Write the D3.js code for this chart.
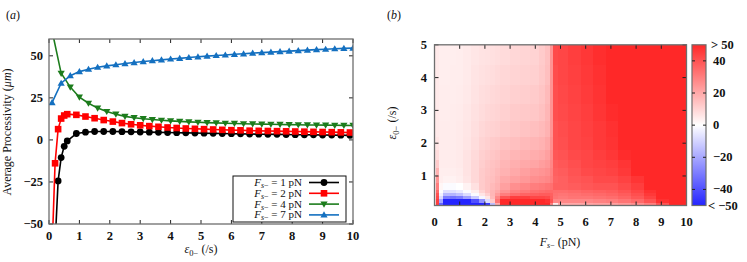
<!DOCTYPE html>
<html>
<head>
<meta charset="utf-8">
<script src="https://cdn.jsdelivr.net/npm/d3@7"></script>
<style>
  body { margin: 0; background: #fff; }
  svg text { font-family: 'Liberation Serif', 'DejaVu Serif', serif; fill: #111; }
  .tick-label { font-size: 12.5px; font-weight: bold; }
  .axis-label { font-size: 12px; }
  .legend-label { font-size: 11px; }
</style>
</head>
<body>
<svg id="fig" width="747" height="262"></svg>
<script>
// ---- panel (a): processivity against the unbinding rate ----
const epsCoarse = [0.1, 0.4, 0.7, 1.0, 1.3, 1.6, 1.9, 2.2, 2.5, 2.8, 3.1, 3.4, 3.7, 4.0, 4.3, 4.6, 4.9,
  5.2, 5.5, 5.8, 6.1, 6.4, 6.7, 7.0, 7.3, 7.6, 7.9, 8.2, 8.5, 8.8, 9.1, 9.4, 9.7, 10.0]
const epsFine = [0.1, 0.2, 0.3, 0.4, 0.5, 0.6, 0.9, 1.2, 1.5, 1.8, 2.1, 2.4, 2.7, 3.0, 3.3, 3.6, 3.9,
  4.2, 4.5, 4.8, 5.1, 5.4, 5.7, 6.0, 6.3, 6.6, 6.9, 7.2, 7.5, 7.8, 8.1, 8.4, 8.7, 9.0, 9.3, 9.6, 9.9]

const procF1 = [-150, -62, -24.4, -10.5, -3.8, -0.6, 3.8, 4.6, 5.0, 5.0, 5.0, 4.9, 4.8, 4.7, 4.6, 4.5, 4.4,
  4.3, 4.2, 4.1, 4.0, 3.9, 3.8, 3.7, 3.6, 3.5, 3.4, 3.35, 3.3, 3.2, 3.1, 3.05, 3.0, 2.9, 2.85, 2.8, 2.7]
const procF2 = [-66, -13.9, 6.4, 12.7, 14.5, 15.3, 14.9, 13.9, 12.9, 11.8, 10.9, 10.0, 9.3, 8.7, 8.2, 7.8, 7.4,
  7.1, 6.8, 6.6, 6.4, 6.2, 6.0, 5.8, 5.7, 5.5, 5.4, 5.3, 5.2, 5.1, 5.0, 4.9, 4.8, 4.7, 4.6, 4.5, 4.4]
const procF4 = [65, 39.6, 31.4, 25.4, 21.8, 18.9, 16.9, 15.3, 14.0, 13.2, 12.6, 12.1, 11.7, 11.3, 11.0, 10.7, 10.5,
  10.3, 10.1, 9.9, 9.8, 9.6, 9.5, 9.4, 9.3, 9.2, 9.1, 9.0, 8.9, 8.85, 8.8, 8.7, 8.65, 8.6]
const procF7 = [22.2, 33.7, 38.2, 40.6, 42.0, 43.2, 44.0, 44.7, 45.4, 46.0, 46.6, 47.1, 47.6, 48.1, 48.5, 49.0, 49.4,
  49.8, 50.2, 50.5, 50.9, 51.2, 51.6, 51.9, 52.2, 52.5, 52.8, 53.1, 53.4, 53.7, 53.9, 54.2, 54.4, 54.6]

const seriesForce = [1, 2, 4, 7]
const seriesColor = ['#000000', '#ff0000', '#1c7c1c', '#1470c0']
const seriesMarker = ['circle', 'square', 'down', 'up']

const lineXTicks = [0, 1, 2, 3, 4, 5, 6, 7, 8, 9, 10]
const lineYTicks = [-50, -25, 0, 25, 50]

// ---- panel (b): processivity map over force and rate ----
const forceEdges = [0, 0.06, 0.18, 0.35, 0.6, 0.85, 1.15, 1.45, 1.75, 2.0, 2.2, 2.4, 2.6, 3.0, 3.4, 3.8,
  4.15, 4.4, 4.6, 4.72, 4.9, 5.3, 5.8, 6.3, 6.8, 7.3, 7.8, 8.3, 8.8, 9.3, 10]
const epsEdges = [0.1, 0.2, 0.3, 0.4, 0.5, 0.6, 0.8, 1.0, 1.25, 1.5, 1.8, 2.2, 2.7, 3.2, 3.8, 4.4, 5.0]
// one row per rate band (bottom to top), one value per force band
const procGrid = [
  [10, 45, -35, -65, -65, -65, -65, -65, -60, -45, -15, 20, 50, 55, 60, 60, 55, 50, 30, 5, 20, 20, 21, 22, 22, 24, 26, 30, 40, 55],
  [10, 45, -20, -55, -58, -55, -50, -40, -25, -8, 12, 32, 50, 55, 55, 55, 52, 48, 40, 28, 28, 28, 28, 29, 30, 32, 35, 40, 48, 58],
  [8, 42, -8, -30, -32, -30, -22, -12, -2, 6, 16, 28, 40, 45, 45, 43, 43, 42, 38, 32, 31, 32, 32, 33, 34, 36, 39, 44, 51, 60],
  [8, 40, -3, -16, -17, -14, -8, -1, 6, 11, 17, 23, 30, 34, 36, 37, 38, 38, 37, 33, 32, 33, 34, 35, 36, 38, 41, 46, 53, 60],
  [7, 35, 0, -7, -7, -5, -1, 4, 10, 14, 17, 20, 25, 29, 31, 33, 34, 35, 35, 34, 34, 35, 36, 37, 38, 40, 43, 48, 55, 60],
  [7, 30, 2, -1, -1, 0, 3, 7, 12, 14, 16, 18, 22, 26, 28, 30, 31, 32, 33, 37, 37, 38, 39, 40, 40, 42, 45, 51, 58, 60],
  [6, 25, 4, 3, 3, 4, 6, 9, 12, 14, 15, 17, 20, 22, 24, 26, 27, 28, 30, 36, 37, 39, 40, 42, 42, 44, 47, 53, 58, 60],
  [6, 18, 4, 4, 4, 4.5, 6.5, 9, 12, 13.5, 14.5, 16, 18, 20, 22, 24, 25, 26, 29, 37, 38, 40, 42, 43, 44, 46, 50, 56, 60, 60],
  [6, 12, 4.5, 4.5, 4.5, 5, 6.5, 9, 11.5, 13, 14, 15, 17, 18.5, 20, 21, 22.5, 24, 28, 38, 39, 41, 43, 44, 45, 47, 52, 58, 60, 60],
  [6, 8, 4.5, 4.5, 4.5, 5, 6.5, 8.5, 11, 12, 13, 14, 15.5, 17, 18, 19, 20, 22, 27, 39, 40, 42, 43, 45, 46.5, 49, 54, 60, 60, 60],
  [5, 6, 4.5, 4.5, 4.5, 5, 6, 8, 10, 11, 12, 12.5, 14, 15, 16, 17, 18, 20, 26, 40, 41, 43, 44, 46, 47.5, 50, 56, 60, 60, 60],
  [5, 5, 4.5, 4.5, 4.5, 4.9, 5.8, 7.5, 9, 10, 10.5, 11, 12, 13, 14, 15, 16, 18, 25, 40, 41.5, 43, 44.5, 46, 48, 52, 58, 60, 60, 60],
  [5, 5, 4.3, 4.3, 4.4, 4.7, 5.5, 7, 8.2, 9, 9.5, 10, 11, 12, 12.5, 13, 14.5, 17, 25, 41, 42, 43.5, 45, 47, 49, 54, 60, 60, 60, 60],
  [5, 5, 4.2, 4.2, 4.3, 4.5, 5.2, 6.5, 7.6, 8.2, 8.8, 9.3, 10, 11, 11.5, 12, 13.5, 16, 25, 41, 42.5, 44, 45.5, 47.5, 50, 55, 60, 60, 60, 60],
  [5, 5, 4, 4, 4.1, 4.3, 5, 6.2, 7, 7.5, 8, 8.5, 9.2, 10, 10.5, 11, 12.5, 15, 25, 41.5, 43, 44.5, 46, 48, 51, 56, 60, 60, 60, 60],
  [5, 5, 3.9, 3.9, 4, 4.1, 4.8, 5.8, 6.5, 6.8, 7.2, 7.7, 8.4, 9.2, 9.7, 10.2, 12, 14.5, 25, 42, 43, 45, 46.5, 48.5, 52, 57, 60, 60, 60, 60]
]
const mapXTicks = [0, 1, 2, 3, 4, 5, 6, 7, 8, 9, 10]
const mapYTicks = [1, 2, 3, 4, 5]
const barTicks = [-50, -40, -20, 0, 20, 40, 50]
const barLabels = ['< \u221250', '\u221240', '\u221220', '0', '20', '40', '> 50']

const svg = d3.select('#fig')
const frameColor = '#6e6e6e'

/**
 * Writes F_{s-} with its subscript into a text selection.
 */
function writeForceSymbol (text) {
  text.append('tspan').style('font-style', 'italic').text('F')
  text.append('tspan').attr('baseline-shift', '-30%').style('font-size', '8px')
    .html('<tspan font-style="italic">s</tspan>\u2212')
}

/**
 * Writes ε_{0-} with its subscript into a text selection.
 */
function writeRateSymbol (text) {
  text.append('tspan').style('font-style', 'italic').text('\u03b5')
  text.append('tspan').attr('baseline-shift', '-30%').style('font-size', '8.5px').text('0\u2212')
}

/**
 * Draws inward ticks on the four sides of a plot and the labels on the left and bottom.
 */
function drawFrame (g, x, y, xTicks, yTicks, xLabelY, yLabelX) {
  const [x0, x1] = x.range()
  const [y0, y1] = y.range()
  g.selectAll('.xt').data(xTicks).join('path').attr('class', 'xt')
    .attr('d', d => `M${x(d)},${y0}v-4M${x(d)},${y1}v4`)
    .attr('stroke', '#222').attr('stroke-width', 1)
  g.selectAll('.yt').data(yTicks).join('path').attr('class', 'yt')
    .attr('d', d => `M${x0},${y(d)}h4M${x1},${y(d)}h-4`)
    .attr('stroke', '#222').attr('stroke-width', 1)
  g.append('rect')
    .attr('x', x0).attr('y', y1).attr('width', x1 - x0).attr('height', y0 - y1)
    .attr('fill', 'none').attr('stroke', frameColor).attr('stroke-width', 1.3)
  g.selectAll('.xl').data(xTicks).join('text').attr('class', 'xl tick-label')
    .attr('x', d => x(d)).attr('y', xLabelY).attr('text-anchor', 'middle')
    .text(d => d3.format('')(d))
  g.selectAll('.yl').data(yTicks).join('text').attr('class', 'yl tick-label')
    .attr('x', yLabelX).attr('y', d => y(d) + 4).attr('text-anchor', 'end')
    .text(d => String(d).replace('-', '\u2212'))
}

/**
 * Draws one marker symbol at the origin of a group.
 */
function drawMarker (g, kind, color) {
  if (kind === 'circle') {
    g.append('circle').attr('r', 3.4).attr('fill', color)
  } else if (kind === 'square') {
    g.append('rect').attr('x', -3.3).attr('y', -3.3).attr('width', 6.6).attr('height', 6.6).attr('fill', color)
  } else if (kind === 'down') {
    g.append('path').attr('d', 'M-3.6,-2.6L3.6,-2.6L0,3.6Z').attr('fill', color)
  } else {
    g.append('path').attr('d', 'M-3.6,2.6L3.6,2.6L0,-3.6Z').attr('fill', color)
  }
}

// ---------------- panel (a) ----------------
const xA = d3.scaleLinear().domain([0, 10]).range([49, 353])
const yA = d3.scaleLinear().domain([-50, 60]).range([224, 39])
const gA = svg.append('g')

svg.append('defs').append('clipPath').attr('id', 'clipA')
  .append('rect').attr('x', 49).attr('y', 39).attr('width', 304).attr('height', 185)

const seriesX = [epsFine, epsFine, epsCoarse, epsCoarse]
const seriesY = [procF1, procF2, procF4, procF7]
const line = d3.line().x(d => xA(d[0])).y(d => yA(d[1]))

const plotA = gA.append('g').attr('clip-path', 'url(#clipA)')
seriesY.forEach((vals, i) => {
  const pts = vals.map((v, j) => [seriesX[i][j], v])
  plotA.append('path').attr('d', line(pts))
    .attr('fill', 'none').attr('stroke', seriesColor[i]).attr('stroke-width', 1.6)
  pts.filter(p => p[1] >= -50 && p[1] <= 60).forEach(p => {
    const m = plotA.append('g').attr('transform', `translate(${xA(p[0])},${yA(p[1])})`)
    drawMarker(m, seriesMarker[i], seriesColor[i])
  })
})

drawFrame(gA, xA, yA, lineXTicks, lineYTicks, 239.5, 43)

// legend
const legend = gA.append('g')
legend.append('rect').attr('x', 233).attr('y', 176).attr('width', 113).attr('height', 46)
  .attr('fill', '#fff').attr('stroke', '#111').attr('stroke-width', 1)
seriesForce.forEach((f, i) => {
  const yy = 182.5 + i * 10.8
  const t = legend.append('text').attr('class', 'legend-label').attr('x', 302).attr('y', yy + 3.5)
    .attr('text-anchor', 'end')
  writeForceSymbol(t)
  t.append('tspan').text(` = ${f} pN`)
  legend.append('line').attr('x1', 309).attr('x2', 339).attr('y1', yy).attr('y2', yy)
    .attr('stroke', seriesColor[i]).attr('stroke-width', 1.6)
  drawMarker(legend.append('g').attr('transform', `translate(324,${yy})`), seriesMarker[i], seriesColor[i])
})

// axis titles
const xTitleA = gA.append('text').attr('class', 'axis-label').attr('x', 201).attr('y', 253).attr('text-anchor', 'middle')
writeRateSymbol(xTitleA)
xTitleA.append('tspan').text(' (/s)')
const yTitleA = gA.append('text').attr('class', 'axis-label')
  .attr('transform', 'translate(11,132) rotate(-90)').attr('text-anchor', 'middle')
yTitleA.append('tspan').text('Average Processivity (')
yTitleA.append('tspan').style('font-style', 'italic').text('\u03bcm')
yTitleA.append('tspan').text(')')

const titleA = svg.append('text').attr('class', 'axis-label').attr('x', 6).attr('y', 19)
titleA.append('tspan').text('(')
titleA.append('tspan').style('font-style', 'italic').text('a')
titleA.append('tspan').text(')')

// ---------------- panel (b) ----------------
const xB = d3.scaleLinear().domain([0, 10]).range([434.5, 686.5])
const yB = d3.scaleLinear().domain([0.1, 5]).range([205.5, 44.8])
const color = d3.scaleLinear().domain([-50, 0, 50])
  .range(['#2424ff', '#ffffff', '#ff2828']).clamp(true)
const gB = svg.append('g')

const cells = []
procGrid.forEach((row, r) => {
  row.forEach((v, c) => cells.push({ r, c, v }))
})
gB.append('g').attr('shape-rendering', 'crispEdges')
  .selectAll('rect').data(cells).join('rect')
  .attr('x', d => xB(forceEdges[d.c]))
  .attr('width', d => xB(forceEdges[d.c + 1]) - xB(forceEdges[d.c]) + 0.4)
  .attr('y', d => yB(epsEdges[d.r + 1]))
  .attr('height', d => yB(epsEdges[d.r]) - yB(epsEdges[d.r + 1]) + 0.4)
  .attr('fill', d => color(d.v))

drawFrame(gB, xB, yB, mapXTicks, mapYTicks, 226, 427)

const xTitleB = gB.append('text').attr('class', 'axis-label').attr('x', 560).attr('y', 246).attr('text-anchor', 'middle')
writeForceSymbol(xTitleB)
xTitleB.append('tspan').text(' (pN)')
const yTitleB = gB.append('text').attr('class', 'axis-label')
  .attr('transform', 'translate(396,123) rotate(-90)').attr('text-anchor', 'middle')
writeRateSymbol(yTitleB)
yTitleB.append('tspan').text(' (/s)')

const titleB = svg.append('text').attr('class', 'axis-label').attr('x', 387).attr('y', 19)
titleB.append('tspan').text('(')
titleB.append('tspan').style('font-style', 'italic').text('b')
titleB.append('tspan').text(')')

// colour bar
const barY = d3.scaleLinear().domain([-50, 50]).range([205.5, 44.8])
const grad = svg.select('defs').append('linearGradient').attr('id', 'barGrad')
  .attr('x1', 0).attr('x2', 0).attr('y1', 1).attr('y2', 0)
grad.selectAll('stop').data([-50, -25, 0, 25, 50]).join('stop')
  .attr('offset', d => (d + 50) / 100).attr('stop-color', d => color(d))
svg.append('rect').attr('x', 692).attr('y', 44.8).attr('width', 14).attr('height', 160.7)
  .attr('fill', 'url(#barGrad)').attr('stroke', frameColor).attr('stroke-width', 1.2)
svg.selectAll('.bt').data(barTicks.slice(1, -1)).join('path').attr('class', 'bt')
  .attr('d', d => `M692,${barY(d)}h3M706,${barY(d)}h-3`)
  .attr('stroke', '#222').attr('stroke-width', 1)
svg.selectAll('.bl').data(barTicks).join('text').attr('class', 'bl tick-label')
  .attr('x', (d, i) => i === 0 ? 708 : (i === barTicks.length - 1 ? 711 : 713))
  .attr('y', d => barY(d) + 4)
  .text((d, i) => barLabels[i])
</script>
</body>
</html>
